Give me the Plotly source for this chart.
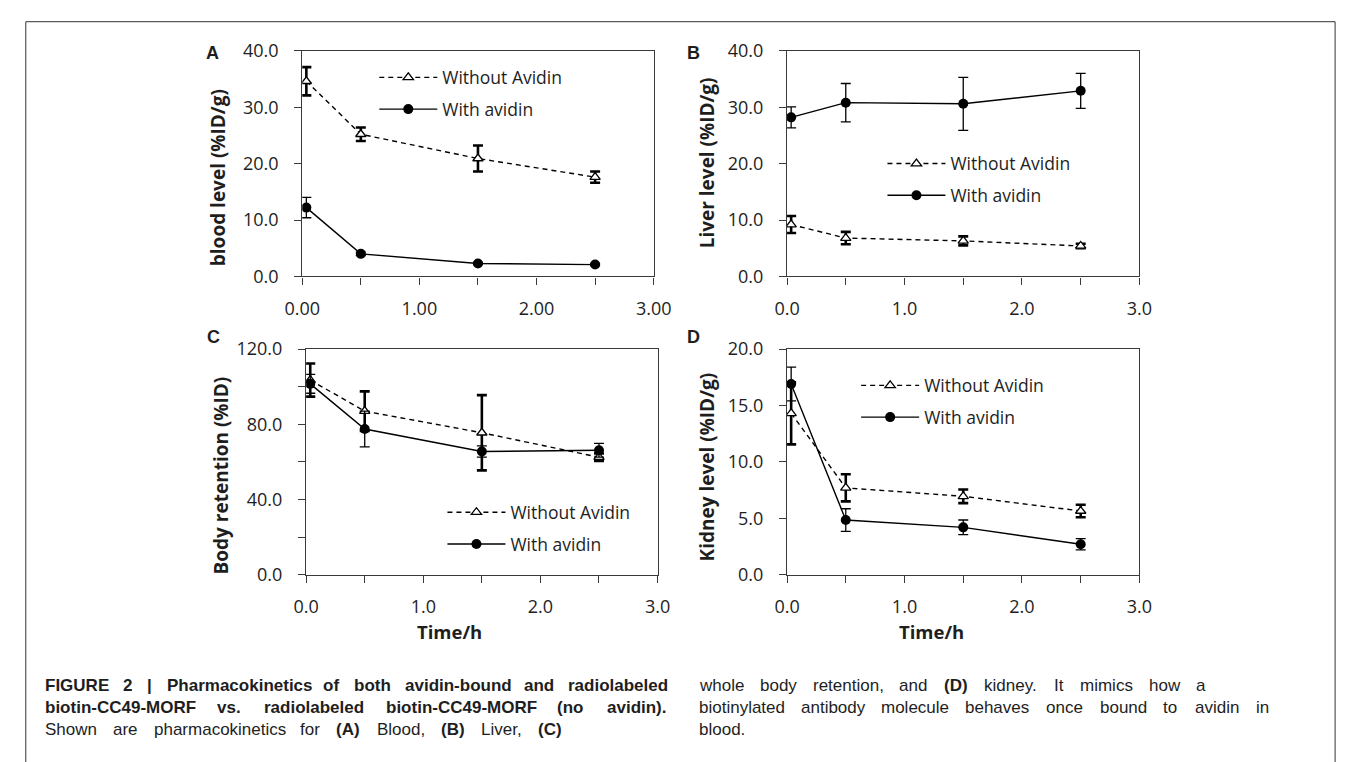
import plotly.graph_objects as go

# ---------------- data ----------------
time_h = [0.035, 0.5, 1.5, 2.5]

blood_without = [34.6, 25.2, 20.9, 17.6]
blood_without_err = [2.5, 1.2, 2.3, 1.0]
blood_with = [12.2, 4.0, 2.3, 2.1]
blood_with_err = [1.8, 0.3, 0.2, 0.2]

liver_without = [9.2, 6.8, 6.3, 5.4]
liver_without_err = [1.5, 1.1, 0.8, 0.4]
liver_with = [28.2, 30.8, 30.6, 32.9]
liver_with_err = [1.85, 3.4, 4.7, 3.1]

body_without = [103.5, 87.0, 75.5, 62.5]
body_without_err = [8.8, 10.5, 20.0, 2.0]
body_with = [101.5, 77.5, 65.5, 66.2]
body_with_err = [5.0, 9.5, 3.0, 3.7]

kidney_without = [14.3, 7.7, 6.95, 5.65]
kidney_without_err = [2.75, 1.2, 0.6, 0.55]
kidney_with = [16.9, 4.85, 4.2, 2.7]
kidney_with_err = [1.5, 1.0, 0.65, 0.5]

series_names = ["Without Avidin", "With avidin"]

x_tickvals = [0, 0.5, 1, 1.5, 2, 2.5, 3]
x_ticktext_A = ["0.00", "", "1.00", "", "2.00", "", "3.00"]
x_ticktext = ["0.0", "", "1.0", "", "2.0", "", "3.0"]

y_tickvals_40 = [0, 10, 20, 30, 40]
y_ticktext_40 = ["0.0", "10.0", "20.0", "30.0", "40.0"]
y_tickvals_120 = [0, 20, 40, 60, 80, 100, 120]
y_ticktext_120 = ["0.0", "", "40.0", "", "80.0", "", "120.0"]
y_tickvals_20 = [0, 5, 10, 15, 20]
y_ticktext_20 = ["0.0", "5.0", "10.0", "15.0", "20.0"]

y_titles = ["blood level (%ID/g)", "Liver level (%ID/g)",
            "Body retention (%ID)", "Kidney level (%ID/g)"]
x_title = "Time/h"
panel_letters = ["A", "B", "C", "D"]

# caption lines: list of (text, bold) tokens
caption_left = [
    [("FIGURE 2 | Pharmacokinetics of both avidin-bound and radiolabeled", True)],
    [("biotin-CC49-MORF vs. radiolabeled biotin-CC49-MORF (no avidin).", True)],
    [("Shown are pharmacokinetics for", False), ("(A)", True), ("Blood,", False),
     ("(B)", True), ("Liver,", False), ("(C)", True)],
]
caption_right = [
    [("whole body retention, and", False), ("(D)", True),
     ("kidney. It mimics how a", False)],
    [("biotinylated antibody molecule behaves once bound to avidin in", False)],
    [("blood.", False)],
]

# ---------------- layout helpers ----------------
W, H = 1357, 762


def px(x):
    return x / W


def py(y):
    return 1 - y / H


TXT = "#1e1e1e"
AX = "#3a3a3a"
FONT = "Open Sans"
CAP_FONT = "Liberation Sans"

# Arial / Liberation Sans advance widths (1/1000 em)
_REG = dict(zip(" (),-./|", [278, 333, 333, 278, 333, 278, 278, 260]))
_BLD = dict(zip(" (),-./|", [278, 333, 333, 278, 333, 278, 278, 280]))
for d in "0123456789":
    _REG[d] = 556
    _BLD[d] = 556
_REG.update(dict(zip("ABCDEFGHIJKLMNOPQRSTUVWXYZ",
    [667, 667, 722, 722, 667, 611, 778, 722, 278, 500, 667, 556, 833, 722, 778,
     667, 778, 722, 667, 611, 722, 667, 944, 667, 667, 611])))
_REG.update(dict(zip("abcdefghijklmnopqrstuvwxyz",
    [556, 556, 500, 556, 556, 278, 556, 556, 222, 222, 500, 222, 833, 556, 556,
     556, 556, 333, 500, 278, 556, 500, 722, 500, 500, 500])))
_BLD.update(dict(zip("ABCDEFGHIJKLMNOPQRSTUVWXYZ",
    [722, 722, 722, 722, 667, 611, 778, 722, 278, 556, 722, 611, 833, 722, 778,
     667, 778, 722, 667, 611, 722, 667, 944, 667, 667, 611])))
_BLD.update(dict(zip("abcdefghijklmnopqrstuvwxyz",
    [556, 611, 556, 611, 556, 333, 611, 611, 278, 278, 556, 278, 889, 611, 611,
     611, 611, 389, 556, 333, 611, 556, 778, 556, 556, 500])))

CAP_SIZE = 17


def word_width(w, bold, size):
    tab = _BLD if bold else _REG
    return sum(tab.get(c, 556) for c in w) * size / 1000.0


def caption_words(tokens, x_start, x_end, y, justify):
    words = []
    for text, bold in tokens:
        for w in text.split(" "):
            words.append((w, bold))
    widths = [word_width(w, b, CAP_SIZE) for w, b in words]
    if justify and len(words) > 1:
        gap = (x_end - x_start - sum(widths)) / (len(words) - 1)
    else:
        gap = 0.278 * CAP_SIZE
    out = []
    x = x_start
    for (w, b), wd in zip(words, widths):
        t = f"<b>{w}</b>" if b else w
        out.append(dict(x=px(x), y=py(y), xref="paper", yref="paper", text=t,
                        showarrow=False, xanchor="left", yanchor="middle",
                        font=dict(family=CAP_FONT, size=CAP_SIZE, color=TXT)))
        x += wd + gap
    return out


panels = [
    (blood_without, blood_without_err, blood_with, blood_with_err,
     (292, 653), (39, 272), y_tickvals_40, y_ticktext_40, x_ticktext_A, 40),
    (liver_without, liver_without_err, liver_with, liver_with_err,
     (790, 1152), (39, 272), y_tickvals_40, y_ticktext_40, x_ticktext, 40),
    (body_without, body_without_err, body_with, body_with_err,
     (296, 657), (347, 580), y_tickvals_120, y_ticktext_120, x_ticktext, 120),
    (kidney_without, kidney_without_err, kidney_with, kidney_with_err,
     (790, 1152), (347, 580), y_tickvals_20, y_ticktext_20, x_ticktext, 20),
]

# legend placement (left px, top px)
legend_pos = [(366, 48), (888, 137), (436, 497), (861, 366)]

fig = go.Figure()
layout_axes = {}

for i, (wo, woe, wi, wie, xd, yd, ytv, ytt, xtt, ymax) in enumerate(panels):
    n = i + 1
    xa = "x" if n == 1 else f"x{n}"
    ya = "y" if n == 1 else f"y{n}"
    leg = "legend" if n == 1 else f"legend{n}"
    fig.add_trace(go.Scatter(
        x=time_h, y=wo, name=series_names[0], xaxis=xa, yaxis=ya,
        mode="lines+markers", legend=leg, legendgroup=f"g{n}a",
        line=dict(color="black", width=1.4, dash="5px,4px"),
        marker=dict(symbol="triangle-up", size=9, color="white",
                    line=dict(color="black", width=1.3)),
        error_y=dict(type="data", array=woe, visible=True, color="black",
                     thickness=2.6, width=5),
    ))
    fig.add_trace(go.Scatter(
        x=time_h, y=wi, name=series_names[1], xaxis=xa, yaxis=ya,
        mode="lines+markers", legend=leg, legendgroup=f"g{n}b",
        line=dict(color="black", width=1.4),
        marker=dict(symbol="circle", size=10, color="black"),
        error_y=dict(type="data", array=wie, visible=True, color="black",
                     thickness=1.3, width=5),
    ))
    xkey = "xaxis" if n == 1 else f"xaxis{n}"
    ykey = "yaxis" if n == 1 else f"yaxis{n}"
    layout_axes[xkey] = dict(
        domain=[px(xd[0]), px(xd[1])], range=[0, 3], anchor=ya,
        tickvals=x_tickvals, ticktext=xtt, ticks="outside", ticklen=7,
        tickwidth=1, tickcolor=AX, showline=True, linecolor=AX, linewidth=1.3,
        mirror=True, showgrid=False, zeroline=False, ticklabelstandoff=9,
        tickfont=dict(family=FONT, size=18, color=TXT),
    )
    layout_axes[ykey] = dict(
        domain=[py(yd[1]), py(yd[0])], range=[0, ymax], anchor=xa,
        tickvals=ytv, ticktext=ytt, ticks="outside", ticklen=7,
        tickwidth=1, tickcolor=AX, showline=True, linecolor=AX, linewidth=1.3,
        mirror=True, showgrid=False, zeroline=False, ticklabelstandoff=12,
        tickfont=dict(family=FONT, size=18, color=TXT),
    )
    lx, ly = legend_pos[i]
    layout_axes[leg] = dict(
        x=px(lx), y=py(ly), xanchor="left", yanchor="top",
        bgcolor="rgba(0,0,0,0)", borderwidth=0, itemwidth=58,
        traceorder="grouped", tracegroupgap=6,
        font=dict(family=FONT, size=17.5, color=TXT),
    )

fig.update_layout(**layout_axes)

annotations = []
ytitle_pos = [(205, 170), (708, 155), (209, 477), (708, 469)]
for (x, y), t in zip(ytitle_pos, y_titles):
    annotations.append(dict(x=px(x), y=py(y), xref="paper", yref="paper",
                            text=f"<b>{t}</b>", textangle=-90, showarrow=False,
                            xanchor="center", yanchor="middle",
                            font=dict(family=FONT, size=19, color=TXT)))
for x in (443, 938):
    annotations.append(dict(x=px(x), y=py(639), xref="paper", yref="paper",
                            text=f"<b>{x_title}</b>", showarrow=False,
                            xanchor="center", yanchor="middle",
                            font=dict(family=FONT, size=18.5, color=TXT)))
letter_pos = [(200, 41), (694, 41), (201, 335), (694, 335)]
for (x, y), t in zip(letter_pos, panel_letters):
    annotations.append(dict(x=px(x), y=py(y), xref="paper", yref="paper",
                            text=f"<b>{t}</b>", showarrow=False,
                            xanchor="center", yanchor="middle",
                            font=dict(family="Liberation Sans", size=18, color=TXT)))

cap_y = [694, 717, 740]
left_ends = [663, 663, 556]
right_ends = [1218, 1283, None]
for cy, toks, xe in zip(cap_y, caption_left, left_ends):
    annotations += caption_words(toks, 26, xe, cy, True)
for cy, toks, xe in zip(cap_y, caption_right, right_ends):
    annotations += caption_words(toks, 698, xe, cy, xe is not None)

fig.update_layout(
    width=W, height=H, margin=dict(l=0, r=0, t=0, b=0),
    paper_bgcolor="white", plot_bgcolor="white",
    annotations=annotations,
    shapes=[dict(type="rect", xref="paper", yref="paper",
                 x0=px(8), x1=px(1353), y0=-0.05, y1=py(9),
                 line=dict(color="#333333", width=1), layer="below")],
)

fig.write_html("out.html", config={"displayModeBar": False},
               post_script="document.body.style.margin='0';document.body.style.overflow='hidden';")
